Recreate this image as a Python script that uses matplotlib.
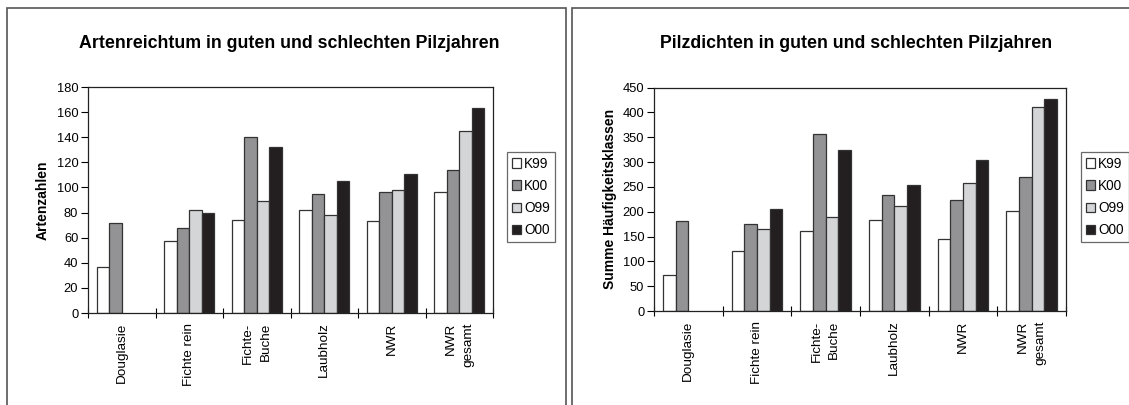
import numpy as np
import matplotlib
matplotlib.use("Agg")
import matplotlib.pyplot as plt
from matplotlib.patches import Rectangle

plt.rcParams['font.family'] = ['Liberation Sans', 'DejaVu Sans']

# --- Daten ---
kategorien = ["Douglasie", "Fichte rein", "Fichte-\nBuche", "Laubholz", "NWR", "NWR\ngesamt"]
serien = ["K99", "K00", "O99", "O00"]
farben = ["#ffffff", "#939395", "#d4d5d7", "#231f20"]

# Artenreichtum (Artenzahlen)
arten_k99 = [37, 57, 74, 82, 73, 96]
arten_k00 = [72, 68, 140, 95, 96, 114]
arten_o99 = [np.nan, 82, 89, 78, 98, 145]
arten_o00 = [np.nan, 80, 132, 105, 111, 163]

# Pilzdichten (Summe Häufigkeitsklassen)
dichte_k99 = [72, 120, 161, 183, 144, 201]
dichte_k00 = [181, 175, 357, 234, 223, 269]
dichte_o99 = [np.nan, 166, 190, 212, 258, 411]
dichte_o00 = [np.nan, 205, 324, 254, 305, 426]

fig = plt.figure(figsize=(11.29, 4.05), dpi=100)
W, H = 1129, 405

# Rahmen der beiden Tafeln
for x0, x1 in [(7, 566), (572, 1140)]:
    fig.add_artist(Rectangle((x0 / W, -0.1), (x1 - x0) / W, 1.1 - 8 / H,
                             transform=fig.transFigure, fill=False,
                             edgecolor="#555555", lw=1.2))


def balken(ax, werte, ymax, ystep, ylabel, lpad):
    x = np.arange(len(kategorien))
    bw = 0.185
    for i, (name, vals) in enumerate(zip(serien, werte)):
        ax.bar(x + (i - 1.5) * bw, vals, bw, color=farben[i], edgecolor="#333333",
               lw=0.9, label=name, zorder=2)
    ax.set_xlim(-0.5, len(kategorien) - 0.5)
    ax.set_ylim(0, ymax)
    ax.set_yticks(np.arange(0, ymax + 1, ystep))
    ax.set_xticks(x)
    ax.set_xticklabels(kategorien, rotation=90, ha="center", va="top",
                       multialignment="right", fontsize=9.7, linespacing=1.6)
    ax.set_xticks(np.arange(-0.5, len(kategorien), 1), minor=True)
    ax.tick_params(axis="x", which="major", length=0, pad=7)
    ax.tick_params(axis="x", which="minor", direction="inout", length=7, width=0.8)
    ax.tick_params(axis="y", direction="out", length=5, width=0.8, labelsize=9.3, pad=2)
    for s in ax.spines.values():
        s.set_linewidth(0.9)
        s.set_color("#222222")
    ax.set_ylabel(ylabel, fontsize=10, fontweight="bold", labelpad=lpad)


legend_opts = dict(loc="upper left", fontsize=9.8, frameon=True, fancybox=False,
                   edgecolor="#444444", handlelength=0.7, handleheight=0.7,
                   handletextpad=0.2, labelspacing=0.6, borderpad=0.35,
                   borderaxespad=0)

ax1 = fig.add_axes([88 / W, 1 - 313 / H, (493 - 88) / W, (313 - 87) / H])
balken(ax1, [arten_k99, arten_k00, arten_o99, arten_o00], 180, 20, "Artenzahlen", 5)
fig.text(289 / W, 1 - 44 / H, "Artenreichtum in guten und schlechten Pilzjahren",
         ha="center", va="center", fontsize=12.8, fontweight="bold")
leg1 = ax1.legend(bbox_to_anchor=(507 / W, 1 - 152 / H),
                  bbox_transform=fig.transFigure, **legend_opts)
leg1.get_frame().set_linewidth(0.9)

ax2 = fig.add_axes([654 / W, 1 - 311 / H, (1066 - 654) / W, (311 - 87.5) / H])
balken(ax2, [dichte_k99, dichte_k00, dichte_o99, dichte_o00], 450, 50,
       "Summe Häufigkeitsklassen", 4)
fig.text(856 / W, 1 - 44 / H, "Pilzdichten in guten und schlechten Pilzjahren",
         ha="center", va="center", fontsize=12.8, fontweight="bold")
leg2 = ax2.legend(bbox_to_anchor=(1081 / W, 1 - 152 / H),
                  bbox_transform=fig.transFigure, **legend_opts)
leg2.get_frame().set_linewidth(0.9)

fig.savefig("out.png", dpi=100)
